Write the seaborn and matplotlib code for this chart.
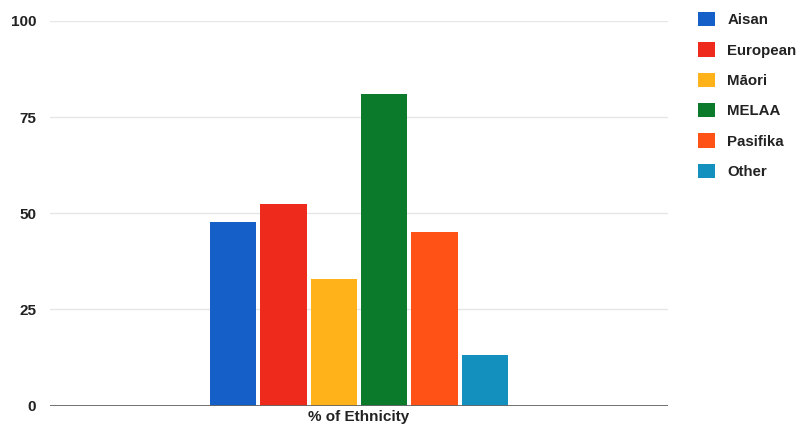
import matplotlib
matplotlib.use("Agg")
import matplotlib.pyplot as plt
import seaborn as sns
import pandas as pd

# Survey share by ethnicity (%)
groups = ["Aisan", "European", "Māori", "MELAA", "Pasifika", "Other"]
values = [47.6, 52.4, 33.0, 81.0, 45.0, 13.1]
category = "% of Ethnicity"
yticks = [0, 25, 50, 75, 100]
colors = ["#1560c8", "#ee2a1c", "#ffb21a", "#0b7a2b", "#ff5216", "#1490bf"]

df = pd.DataFrame({"cat": [category] * len(groups), "group": groups, "value": values})

sns.set_theme(style="white")
plt.rcParams["font.family"] = ["Liberation Sans", "DejaVu Sans"]

fig = plt.figure(figsize=(7.98, 4.34), dpi=100)
ax = fig.add_axes([50 / 798, 1 - 405.5 / 434, 618 / 798, (405.5 - 21) / 434])

sns.barplot(data=df, x="cat", y="value", hue="group", hue_order=groups,
            palette=colors, width=0.488, gap=0.08, saturation=1,
            linewidth=0, ax=ax, legend=True)

ax.set_xlim(-0.5, 0.5)
ax.set_ylim(0, 100)
ax.set_yticks(yticks)
ax.set_yticklabels([str(t) for t in yticks], fontsize=11, color="#222222")
ax.tick_params(axis="y", length=0, pad=10)
ax.tick_params(axis="x", length=0, pad=3, labelsize=11, labelcolor="#222222")
ax.set_xlabel("")
ax.set_ylabel("")
for t in ax.get_yticklabels() + ax.get_xticklabels():
    t.set_fontweight("semibold")

for y in yticks[1:]:
    ax.axhline(y, color="#e6e6e6", linewidth=1, zorder=0)
ax.axhline(0, color="#666666", linewidth=1.3, zorder=3)
for s in ax.spines.values():
    s.set_visible(False)

handles, labels = ax.get_legend_handles_labels()
ax.get_legend().remove()
leg = fig.legend(handles, labels, loc="upper left", bbox_to_anchor=(692 / 798, 1 - 6 / 434),
                 frameon=False, fontsize=10.8, handlelength=1.1, handleheight=1.1,
                 handletextpad=0.85, labelspacing=1.0, borderaxespad=0)
for t in leg.get_texts():
    t.set_color("#222222")
    t.set_fontweight("semibold")

fig.savefig("out.png", dpi=100)
